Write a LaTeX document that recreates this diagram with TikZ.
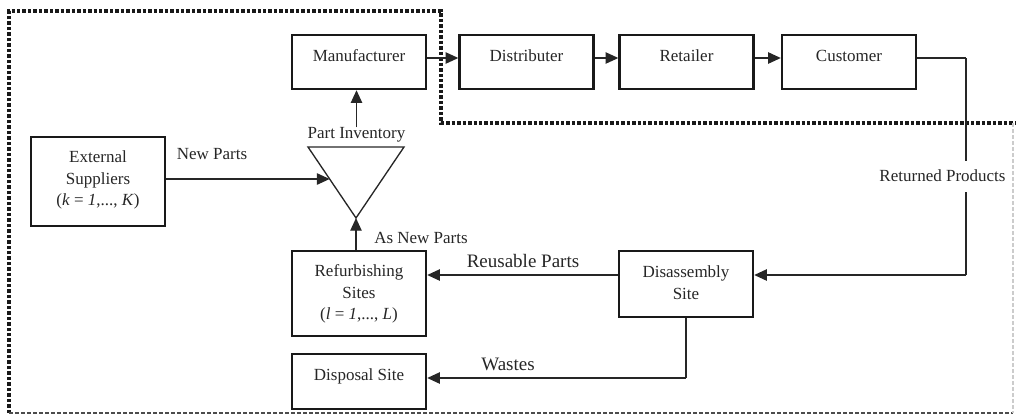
\documentclass[tikz,border=0pt]{standalone}
\usepackage{fontspec}
\setmainfont{Liberation Serif}
\usetikzlibrary{arrows.meta,calc}
\begin{document}
\begin{tikzpicture}[x=0.75pt,y=-0.75pt,
  box/.style={draw=black!90, line width=1.8pt, minimum width=100.5pt, inner sep=0pt},
  txt/.style={font=\fontsize{12.75}{16.3}\selectfont, text=black!85, align=center, inner sep=0pt},
  bigtxt/.style={font=\fontsize{14.25}{17}\selectfont, text=black!85, inner sep=0pt},
  conn/.style={line width=1pt, draw=black!85},
  heavy/.style={line width=1.8pt, draw=black!85},
  arr/.style={conn, -{Triangle[length=9.5pt,width=8.5pt]}},
  bound/.style={line width=2.8pt, draw=black!90, dash pattern=on 2.6pt off 1.5pt},
  boundthin/.style={line width=1.1pt, draw=black!70, dash pattern=on 3pt off 1.5pt}]
\useasboundingbox (0,0) rectangle (1016,419);

% system boundary
\draw[bound] (9,413) -- (9,11) -- (441,11) -- (441,123) -- (1016,123);
\draw[boundthin] (9,413) -- (1013,413);
\draw[line width=0.8pt, draw=black!20, dash pattern=on 3pt off 1.5pt] (1013,123) -- (1013,413);

% forward chain
\node[box, minimum height=40.5pt] (man)  at (359,62) {};
\node[box, minimum height=40.5pt] (dist) at (526.5,62) {};
\node[box, minimum height=40.5pt] (ret)  at (686.5,62) {};
\node[box, minimum height=40.5pt] (cust) at (849,62) {};
\node[txt] (man-t)  at (359,56) {Manufacturer};
\node[txt] (dist-t) at (526.5,56) {Distributer};
\node[txt] (ret-t)  at (686.5,56) {Retailer};
\node[txt] (cust-t) at (849,56) {Customer};

\draw[arr] ([yshift=3pt]man.east)  -- ([yshift=3pt]dist.west);
\draw[arr] ([yshift=3pt]dist.east) -- ([yshift=3pt]ret.west);
\draw[arr] ([yshift=3pt]ret.east)  -- ([yshift=3pt]cust.west);

% part inventory
\coordinate (tl) at (308,147);
\coordinate (tr) at (404,147);
\coordinate (apex) at (356,218);
\draw[line width=1pt, draw=black!85, line join=miter] (tl) -- (tr) -- (apex) -- cycle;
\node[txt] (inv) at (356.5,135) {Part Inventory};
\draw[arr] (inv.north) -- (inv.north |- man.south);

% external suppliers
\node[box, minimum height=66.75pt] (ext) at (98,181.5) {};
\node[txt] (ext-t) at (98,180) {External\\Suppliers\\(\textit{k} = \textit{1},..., \textit{K})};
\coordinate (inL) at ($(tl)!0.4507!(apex)$);
\draw[arr] (ext.east |- inL) -- (inL);
\node[txt] (np) at (212,154) {New Parts};

% reverse chain
\node[box, minimum height=63.75pt] (ref) at (359,293.5) {};
\node[txt] (ref-t) at (359,294) {Refurbishing\\Sites\\(\textit{l} = \textit{1},..., \textit{L})};
\node[box, minimum height=41.25pt] (disp) at (359,381.5) {};
\node[txt] (disp-t) at (359,376) {Disposal Site};
\node[box, minimum height=49.5pt] (dis) at (686,284) {};
\node[txt] (dis-t) at (686,283) {Disassembly\\Site};

\draw[arr] (ref.north -| apex) -- (apex);
\node[txt] (anp) at (421,238) {As New Parts};

% returned products
\coordinate (rc) at (966,58);
\coordinate (rg1) at (966,161);
\coordinate (rg2) at (966,192);
\coordinate (rb) at (966,275);
\draw[conn] ([yshift=3pt]cust.east) -- (rc);
\draw[heavy] (rc) -- (rg1);
\draw[heavy] (rg2) -- (rb);
\draw[arr] (rb) -- (dis.east |- rb);
\node[txt] (rp) at (942.5,176) {Returned Products};

% reusable parts
\coordinate (ru) at (600,275);
\draw[arr] (dis.west |- ru) -- (ref.east |- ru);
\node[bigtxt] (rup) at (523,261) {Reusable Parts};

% wastes
\coordinate (wc) at (dis.south |- 0,378);
\draw[heavy] (dis.south) -- (wc);
\draw[arr] (wc) -- (disp.east |- wc);
\node[bigtxt] (w) at (508,364) {Wastes};
\end{tikzpicture}
\end{document}
